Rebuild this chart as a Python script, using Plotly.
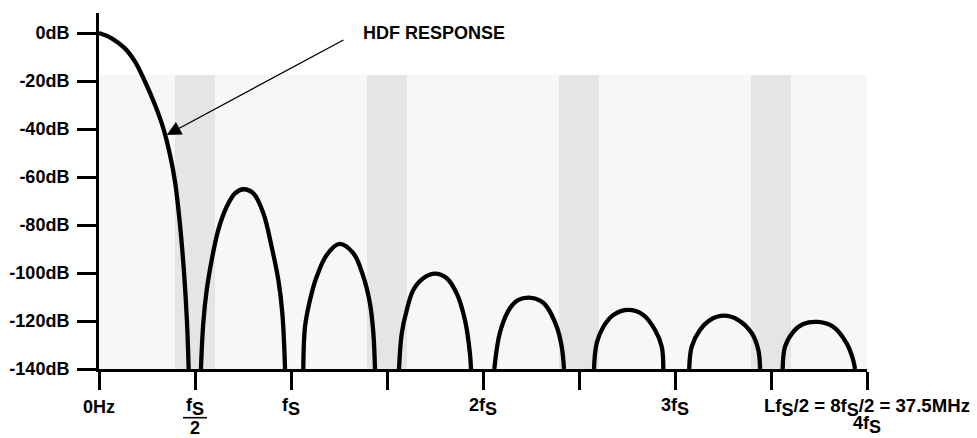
import plotly.graph_objects as go

# ---------------- data (frequency in units of fs, response in dB) ----------------
freq_ticks = [0, 0.5, 1, 1.5, 2, 2.5, 3, 3.5, 4]
db_ticks = [0, -20, -40, -60, -80, -100, -120, -140]
db_labels = ["0dB", "-20dB", "-40dB", "-60dB", "-80dB", "-100dB", "-120dB", "-140dB"]

# x-axis labels: (tick value, label)
label_f = [0, 1, 2, 3, 4]
label_txt = ["0Hz", "f{S}", "2f{S}", "3f{S}", "Lf{S}/2 = 8f{S}/2 = 37.5MHz"]
frac_f = 0.5           # fs/2 label (drawn as a fraction)
frac_num = "f{S}"
frac_den = "2"
extra_f = 4            # second line under the last tick
extra_txt = "4f{S}"

# shaded regions
shade_top_db = -17.5
band_centers = [0.5, 1.5, 2.5, 3.5]
band_half = 0.104

# HDF response lobes
main_f = [0.0, 0.066, 0.135, 0.1875, 0.240, 0.292, 0.335, 0.370, 0.396, 0.422, 0.443, 0.458, 0.467]
main_db = [0.0, -2.2, -6.4, -11.95, -20.3, -30.0, -39.7, -50.8, -61.9, -80.0, -100.0, -120.0, -140.0]

lobe1_f = [0.531, 0.543, 0.561, 0.587, 0.621, 0.665, 0.708, 0.752, 0.804, 0.856, 0.899, 0.934, 0.955, 0.969]
lobe1_db = [-140, -121, -107.1, -94.6, -82.1, -72.4, -66.8, -65.1, -66.8, -75.1, -89.0, -102.9, -116.8, -140]

lobe2_f = [1.064, 1.073, 1.099, 1.134, 1.186, 1.252, 1.325, 1.377, 1.411, 1.429, 1.4375]
lobe2_db = [-140, -122.4, -111.25, -101.5, -92.5, -87.9, -91.8, -101.5, -112.6, -125.1, -140]

lobe3_f = [1.5625, 1.577, 1.603, 1.637, 1.689, 1.75, 1.811, 1.863, 1.906, 1.932, 1.9375]
lobe3_db = [-140, -125.1, -115.4, -107.1, -102.2, -100.3, -102.2, -108.5, -119.6, -133.5, -140]

lobe4_f = [2.059, 2.089, 2.141, 2.182, 2.241, 2.300, 2.332, 2.384, 2.410, 2.422]
lobe4_db = [-140, -124.6, -114.6, -111.3, -110.3, -111.6, -114.0, -122.4, -130.7, -140]

lobe5_f = [2.578, 2.592, 2.627, 2.679, 2.757, 2.835, 2.896, 2.931, 2.939]
lobe5_db = [-140, -129.3, -122.4, -117.5, -115.4, -117.5, -123.75, -130.7, -140]

lobe6_f = [3.074, 3.087, 3.130, 3.182, 3.255, 3.330, 3.400, 3.434, 3.443]
lobe6_db = [-140, -130.7, -123.75, -119.6, -117.8, -119.6, -125.1, -132.1, -140]

lobe7_f = [3.561, 3.573, 3.616, 3.668, 3.746, 3.824, 3.894, 3.928, 3.9375]
lobe7_db = [-140, -130.7, -124.5, -121.25, -120.4, -122.4, -129.3, -136.25, -140]

# annotation
note_text = "HDF RESPONSE"
note_f, note_db = 1.367, 0.1
arrow_tail_f, arrow_tail_db = 1.281, -2.6
arrow_head_f, arrow_head_db = 0.3526, -42.5

# ---------------- figure ----------------
FONT = "Liberation Sans, Arial, Helvetica, sans-serif"
Y_MAX = 8.333
PLOT_H = 356.0
SUB = '<sub><span style="font-size:18px">S</span></sub>'


def fmt(s):
    return s.replace("{S}", SUB)


def py(pix):
    """pixel row below plot bottom -> paper y"""
    return -(pix - 369) / PLOT_H


fig = go.Figure()

lobes = [(main_f, main_db), (lobe1_f, lobe1_db), (lobe2_f, lobe2_db), (lobe3_f, lobe3_db),
         (lobe4_f, lobe4_db), (lobe5_f, lobe5_db), (lobe6_f, lobe6_db), (lobe7_f, lobe7_db)]
for fx, dy in lobes:
    fig.add_trace(go.Scatter(x=fx, y=dy, mode="lines",
                             line=dict(color="black", width=4.3, shape="spline", smoothing=1.0),
                             hoverinfo="skip", showlegend=False))

shapes = [dict(type="rect", xref="x", yref="y", x0=freq_ticks[0], x1=freq_ticks[-1],
               y0=db_ticks[-1], y1=shade_top_db, fillcolor="#f7f7f7", line_width=0, layer="below")]
for c in band_centers:
    shapes.append(dict(type="rect", xref="x", yref="y", x0=c - band_half, x1=c + band_half,
                       y0=db_ticks[-1], y1=shade_top_db, fillcolor="#e5e5e5", line_width=0, layer="below"))

span = freq_ticks[-1] - freq_ticks[0]
shapes.append(dict(type="line", xref="paper", yref="paper",
                   x0=(frac_f - 0.0625) / span, x1=(frac_f + 0.0625) / span,
                   y0=py(417.7), y1=py(417.7),
                   line=dict(color="black", width=1.6)))

bold = dict(family=FONT, size=18, color="black", weight="bold")
annotations = []
for fx, t in zip(label_f, label_txt):
    f = dict(bold)
    if fx == label_f[-1]:
        f["size"] = 18.6
    annotations.append(dict(x=fx / span, y=py(407), xref="paper", yref="paper", text=fmt(t), showarrow=False,
                            xanchor="center", yanchor="middle", font=f))
annotations.append(dict(x=frac_f / span, y=py(406.5), xref="paper", yref="paper", text=fmt(frac_num),
                        showarrow=False, xanchor="center", yanchor="middle", font=bold))
annotations.append(dict(x=frac_f / span, y=py(428), xref="paper", yref="paper", text=frac_den,
                        showarrow=False, xanchor="center", yanchor="middle", font=bold))
annotations.append(dict(x=extra_f / span, y=py(425), xref="paper", yref="paper", text=fmt(extra_txt),
                        showarrow=False, xanchor="center", yanchor="middle", font=bold))
annotations.append(dict(x=note_f, y=note_db, xref="x", yref="y", text=note_text, showarrow=False,
                        xanchor="left", yanchor="middle", font=bold))
annotations.append(dict(x=arrow_head_f, y=arrow_head_db, ax=arrow_tail_f, ay=arrow_tail_db,
                        xref="x", yref="y", axref="x", ayref="y", text="", showarrow=True,
                        arrowhead=2, arrowsize=2.2, arrowwidth=1.3, arrowcolor="black",
                        standoff=0, startstandoff=0))

fig.update_layout(
    width=977, height=438,
    margin=dict(l=99, r=110, t=13, b=69, pad=0, autoexpand=False),
    paper_bgcolor="white", plot_bgcolor="white",
    shapes=shapes, annotations=annotations,
    xaxis=dict(range=[freq_ticks[0], freq_ticks[-1]], showline=True, linecolor="black", linewidth=3,
               ticks="outside", ticklen=18, tickwidth=3, tickcolor="black", automargin=False,
               tickvals=freq_ticks, showticklabels=False, showgrid=False, zeroline=False),
    yaxis=dict(range=[db_ticks[-1], Y_MAX], showline=True, linecolor="black", linewidth=3,
               ticks="outside", ticklen=19, tickwidth=3, tickcolor="black", automargin=False,
               tickvals=db_ticks, ticktext=db_labels, ticklabelstandoff=4,
               tickfont=dict(family=FONT, size=18, color="black", weight="bold"),
               showgrid=False, zeroline=False),
)

fig.write_html("out.html", config={"displayModeBar": False, "staticPlot": True},
               post_script="document.body.style.margin='0px';")
